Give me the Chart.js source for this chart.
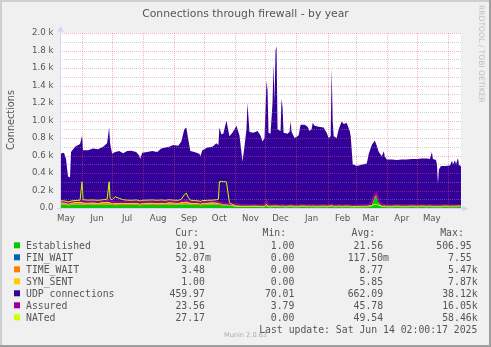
<!DOCTYPE html>
<html>
<head>
<meta charset="utf-8">
<script src="https://cdn.jsdelivr.net/npm/chart.js@4.4.0/dist/chart.umd.min.js"></script>
<style>
  html, body { margin: 0; padding: 0; background: #F0F0F0; overflow: hidden; }
  canvas { display: block; }
</style>
</head>
<body>
<canvas id="c" width="491" height="347"></canvas>
<script>
// Day offsets inside the 400-day window ending Sat Jun 14 02:00 2025
const days = [
  0,4,6,8,10,11,15,20,22,23,
  28,33,38,43,47,49,50,52,55,59,
  63,67,71,76,79,80,82,87,92,97,
  101,105,109,113,118,121,124,126,128,130,
  134,139,140,142,147,152,156,158,159,161,
  163,166,169,172,174,176,179,181,182,184,
  186,187,189,193,197,200,202,204,206,207,
  208,210,212,213,214,215,216,217,220,221,
  222,223,227,229,230,231,234,238,240,244,
  247,249,251,252,254,258,263,266,268,270,
  271,272,273,276,278,281,283,286,289,290,
  292,296,301,306,308,311,314,316,318,321,
  323,324,326,331,336,341,346,351,356,361,
  366,369,371,372,375,376,377,378,380,385,
  389,391,392,394,395,397,398,399,400
];

// Stacked areas (bottom to top)
const established = [
  38,36,35,30,32,36,38,40,38,36,
  35,36,34,38,40,38,36,34,32,34,
  35,33,34,36,32,30,34,36,35,34,
  36,35,38,37,36,38,40,42,38,36,
  34,33,30,35,36,38,37,35,34,32,
  30,28,26,22,18,15,14,13,12,12,
  12,12,11,11,12,11,10,12,35,15,
  11,10,11,12,11,12,12,11,10,11,
  11,10,10,11,12,11,10,10,11,11,
  10,11,10,11,10,10,11,10,11,12,
  14,11,10,10,11,10,10,11,10,10,
  9,9,10,10,12,20,120,130,50,15,
  12,11,10,10,11,10,10,11,10,11,
  10,11,10,10,10,10,9,10,10,11,
  10,11,10,11,10,12,11,11,10.91
];
const finWait = [
  0.15,0.15,0.15,0.15,0.15,0.15,0.15,0.15,0.15,0.15,
  0.15,0.15,0.15,0.15,0.15,0.15,0.15,0.15,0.15,0.15,
  0.15,0.15,0.15,0.15,0.15,0.15,0.15,0.15,0.15,0.15,
  0.15,0.15,0.15,0.15,0.15,0.15,0.15,0.15,0.15,0.15,
  0.15,0.15,0.15,0.15,0.15,0.15,0.15,0.15,0.15,0.15,
  0.1,0.1,0.1,0.1,0.1,0.1,0.1,0.1,0.1,0.1,
  0.1,0.1,0.1,0.1,0.1,0.1,0.1,0.1,0.1,0.1,
  0.1,0.1,0.1,0.1,0.1,0.1,0.1,0.1,0.1,0.1,
  0.1,0.1,0.1,0.1,0.1,0.1,0.1,0.1,0.1,0.1,
  0.1,0.1,0.1,0.1,0.1,0.1,0.1,0.1,0.1,0.1,
  0.1,0.1,0.1,0.1,0.1,0.1,0.1,0.1,0.1,0.1,
  0.1,0.1,0.1,0.1,0.1,0.1,0.1,0.1,0.1,0.1,
  0.1,0.1,0.1,0.1,0.1,0.1,0.1,0.1,0.1,0.1,
  0.1,0.1,0.1,0.1,0.1,0.1,0.1,0.1,0.1,0.1,
  0.1,0.1,0.1,0.1,0.1,0.1,0.1,0.1,0.05
];
const timeWait = [
  18,16,15,12,14,16,18,20,18,16,
  16,17,15,18,20,18,16,15,14,15,
  16,15,14,16,14,13,15,16,16,15,
  16,15,17,16,15,17,18,20,17,16,
  15,14,13,15,16,17,16,15,14,13,
  12,11,10,8,6,5,5,4,4,4,
  4,4,4,4,4,3.5,3.5,4,6,5,
  4,4,4,4,4,4,4,4,3.5,4,
  4,3.5,3.5,4,4,4,3.5,3.5,4,4,
  3.5,4,3.5,4,3.5,3.5,4,3.5,4,4,
  5,4,3.5,3.5,4,3.5,3.5,4,3.5,3.5,
  3,3,3.5,3.5,4,6,10,12,6,4,
  3.5,3.5,3.5,3.5,3.5,3.5,3.5,3.5,3.5,3.5,
  3.5,3.5,4,3.5,3.5,3.5,3,3.5,3.5,3.5,
  3.5,3.5,3.5,3.5,3.5,4,3.5,3.5,3.48
];
const synSent = [
  10,9,9,8,8,9,10,10,10,9,
  9,10,9,10,10,10,9,9,8,9,
  9,9,8,9,8,8,9,9,9,9,
  9,9,10,9,9,10,10,11,10,9,
  9,9,8,9,9,10,9,9,9,8,
  8,7,6,5,4,3,3,3,2.5,2.5,
  2.5,2.5,2.5,2.5,2.5,2,2,2.5,3,3,
  2.5,2.5,2.5,2.5,2.5,2.5,2.5,2.5,2,2.5,
  2,2,2,2,2,2,2,2,2,2,
  2,2,2,2,2,2,2,2,2,2,
  2,2,2,2,2,2,2,2,2,2,
  2,2,2,2,2,2,3,3,2,2,
  2,2,2,2,2,2,2,2,2,2,
  2,2,2,2,2,2,2,2,2,2,
  2,2,2,2,2,2,1.5,1.2,1
];
const udpConnections = [
  554,569,501,310,296,579,634,660,759,599,
  600,617,612,634,670,854,679,562,586,592,
  565,593,599,579,546,509,572,579,590,582,
  619,631,635,658,650,695,832,847,715,589,
  582,564,539,601,629,635,678,661,863,787,
  800,954,778,825,872,917,808,620,511,681,
  881,1181,852,842,861,813,744,781,1406,1327,
  842,833,1182,1631,1182,1781,1831,882,864,1232,
  1133,844,834,853,972,853,784,814,933,933,
  914,863,884,953,924,914,903,844,783,802,
  1579,983,804,784,883,974,944,953,864,804,
  486,466,479,494,602,692,637,565,582,569,
  632,573,539,539,533,539,539,543,544,548,
  549,543,624,544,534,484,266,424,464,463,
  469,523,484,528,484,552,474,469,459.97
];

// Lines drawn over the areas
const assured = [
  80,75,70,60,65,75,80,85,90,80,
  75,80,75,85,90,85,80,75,70,75,
  70,75,70,75,65,60,70,75,75,70,
  75,70,80,75,70,80,85,90,80,75,
  70,65,60,70,75,80,75,70,65,60,
  55,50,48,45,42,40,40,38,35,35,
  35,35,34,34,35,33,32,40,80,60,
  35,33,34,36,34,36,36,34,32,34,
  34,32,32,34,36,34,32,32,34,34,
  32,34,32,34,32,32,34,32,34,36,
  45,36,32,32,34,32,32,34,32,32,
  30,30,32,32,38,70,160,170,80,40,
  36,34,32,32,34,32,32,34,32,34,
  32,34,32,32,32,32,30,32,32,34,
  30,32,30,32,30,34,30,28,23.56
];
const nated = [
  85,80,78,70,72,80,85,90,300,95,
  90,92,88,95,100,300,105,95,130,110,
  95,90,88,92,85,80,88,90,92,88,
  92,88,95,90,88,100,150,170,120,90,
  85,80,75,85,88,90,95,100,300,305,
  300,300,60,40,30,25,22,20,20,20,
  20,20,20,22,20,20,18,22,40,30,
  22,20,22,24,22,24,24,22,20,22,
  22,20,20,22,24,22,20,20,22,22,
  20,22,20,22,20,20,22,20,22,24,
  30,24,20,20,22,20,20,22,20,20,
  18,18,20,20,24,30,40,40,30,22,
  22,22,20,20,22,20,20,22,20,22,
  20,22,20,20,20,20,18,20,20,22,
  20,22,20,22,20,24,22,20,27.17
];

// Time axis: month boundaries (grid) and label positions (mid-month)
const monthStarts = [21.9, 51.9, 82.9, 113.9, 143.9, 174.9, 204.9, 235.9, 266.9, 294.9, 325.9, 355.9, 386.9];
const monthLabelDays = [5.9, 36.9, 66.9, 97.9, 128.9, 158.9, 189.9, 219.9, 250.9, 281.9, 309.9, 340.9, 370.9];
const monthNames = ['May', 'Jun', 'Jul', 'Aug', 'Sep', 'Oct', 'Nov', 'Dec', 'Jan', 'Feb', 'Mar', 'Apr', 'May'];

// Value axis grid: minor every 100, labelled major every 200
const yMax = 2000;
const yMinorStep = 100;
const yMajorStep = 200;

// Legend table
const seriesNames = ['Established', 'FIN_WAIT', 'TIME_WAIT', 'SYN_SENT', 'UDP connections', 'Assured', 'NATed'];
const seriesColors = ['#00CC00', '#0066B3', '#FF8000', '#FFCC00', '#330099', '#990099', '#CCFF00'];
const curText = ['10.91', '52.07m', '3.48', '1.00', '459.97', '23.56', '27.17'];
const minText = ['1.00', '0.00', '0.00', '0.00', '70.01', '3.79', '0.00'];
const avgText = ['21.56', '117.50m', '8.77', '5.85', '662.09', '45.78', '49.54'];
const maxText = ['506.95', '7.55', '5.47k', '7.87k', '38.12k', '16.05k', '58.46k'];

const TEXT = '#555555';
const MAJOR_GRID = 'rgba(226,90,90,0.42)';
const MINOR_GRID = 'rgba(150,150,150,0.45)';
const AXIS = '#CFD6F8';

const toPoints = vals => days.map((d, i) => ({ x: d, y: vals[i] }));

function area(label, vals, color, fill) {
  return {
    label, data: toPoints(vals), stack: 'conn', order: 2,
    backgroundColor: color, borderColor: 'rgba(0,0,0,0)', borderWidth: 0,
    fill, pointRadius: 0, tension: 0
  };
}
function line(label, vals, color, width, order) {
  return {
    label, data: toPoints(vals), stack: label, order,
    borderColor: color, backgroundColor: color, borderWidth: width,
    fill: false, pointRadius: 0, tension: 0
  };
}

const framePlugin = {
  id: 'rrdFrame',
  beforeDraw(chart) {
    const { ctx, chartArea: a, width: W, height: H } = chart;
    ctx.save();
    ctx.fillStyle = '#F0F0F0';
    ctx.fillRect(0, 0, W, H);
    ctx.fillStyle = '#CFCFCF';
    ctx.fillRect(0, 0, W, 2);
    ctx.fillRect(0, 0, 2, H);
    ctx.fillStyle = '#9E9E9E';
    ctx.fillRect(0, H - 2, W, 2);
    ctx.fillRect(W - 2, 0, 2, H);
    ctx.fillStyle = '#FFFFFF';
    ctx.fillRect(a.left, a.top, a.right - a.left, a.bottom - a.top);
    ctx.restore();
  },
  afterDatasetsDraw(chart) {
    // dotted grid over the graph, as rrdtool does
    const { ctx, chartArea: a, scales } = chart;
    const xs = scales.x, ys = scales.y;
    ctx.save();
    ctx.lineWidth = 1;
    ctx.setLineDash([1, 1]);
    for (let v = yMinorStep; v <= yMax; v += yMinorStep) {
      const py = Math.round(ys.getPixelForValue(v)) + 0.5;
      ctx.strokeStyle = v % yMajorStep === 0 ? MAJOR_GRID : MINOR_GRID;
      ctx.beginPath();
      ctx.moveTo(a.left, py);
      ctx.lineTo(a.right, py);
      ctx.stroke();
    }
    ctx.strokeStyle = MAJOR_GRID;
    monthStarts.forEach(d => {
      const px = Math.round(xs.getPixelForValue(d)) + 0.5;
      ctx.beginPath();
      ctx.moveTo(px, a.bottom);
      ctx.lineTo(px, a.top);
      ctx.stroke();
    });
    ctx.restore();
  },
  afterDraw(chart) {
    const { ctx, chartArea: a } = chart;
    ctx.save();

    // axes with arrows
    ctx.strokeStyle = AXIS;
    ctx.fillStyle = AXIS;
    ctx.lineWidth = 1;
    ctx.beginPath();
    ctx.moveTo(a.left - 3, a.bottom + 0.5);
    ctx.lineTo(a.right + 2, a.bottom + 0.5);
    ctx.moveTo(a.left + 0.5, a.bottom + 3);
    ctx.lineTo(a.left + 0.5, a.top - 2);
    ctx.stroke();
    ctx.beginPath();
    ctx.moveTo(a.right + 1.5, a.bottom - 2.5);
    ctx.lineTo(a.right + 7, a.bottom + 0.5);
    ctx.lineTo(a.right + 1.5, a.bottom + 3.5);
    ctx.closePath();
    ctx.fill();
    ctx.beginPath();
    ctx.moveTo(a.left - 2.5, a.top - 1.5);
    ctx.lineTo(a.left + 0.5, a.top - 7);
    ctx.lineTo(a.left + 3.5, a.top - 1.5);
    ctx.closePath();
    ctx.fill();

    // title
    ctx.fillStyle = TEXT;
    ctx.font = '10.8px "DejaVu Sans"';
    ctx.textAlign = 'center';
    ctx.textBaseline = 'alphabetic';
    ctx.fillText('Connections through firewall - by year', 245.5, 17.4);

    // vertical axis title
    ctx.save();
    ctx.translate(13.8, 120);
    ctx.rotate(-Math.PI / 2);
    ctx.font = '9.7px "DejaVu Sans"';
    ctx.textAlign = 'center';
    ctx.fillText('Connections', 0, 0);
    ctx.restore();

    // side credit
    ctx.save();
    ctx.translate(478.5, 5);
    ctx.rotate(Math.PI / 2);
    ctx.font = '7.6px "DejaVu Sans"';
    ctx.fillStyle = '#BDBDBD';
    ctx.textAlign = 'left';
    ctx.fillText('RRDTOOL / TOBI OETIKER', 0, 0);
    ctx.restore();

    // watermark
    ctx.font = '6.6px "DejaVu Sans"';
    ctx.fillStyle = '#ADADAD';
    ctx.textAlign = 'center';
    ctx.fillText('Munin 2.0.63', 245.5, 336.9);

    // legend
    ctx.font = '9.8px "DejaVu Sans Mono"';
    ctx.fillStyle = TEXT;
    ctx.textAlign = 'left';
    ctx.fillText('Cur:', 175.2, 235.9);
    ctx.fillText('Min:', 262.5, 235.9);
    ctx.fillText('Avg:', 351.5, 235.9);
    ctx.fillText('Max:', 440.2, 235.9);
    const cols = [[curText, 210.8], [minText, 300.3], [avgText, 389], [maxText, 477.6]];
    const pad = s => (/[mk]$/.test(s) ? s : s + ' ');
    seriesNames.forEach((name, i) => {
      const cy = 245.3 + i * 12;
      ctx.fillStyle = seriesColors[i];
      ctx.fillRect(14, cy - 3, 6, 6);
      ctx.fillStyle = TEXT;
      ctx.textAlign = 'left';
      ctx.fillText(name, 26, cy + 3.6);
      ctx.textAlign = 'right';
      cols.forEach(([vals, xr]) => ctx.fillText(pad(vals[i]), xr, cy + 3.6));
    });
    ctx.textAlign = 'right';
    ctx.fillText('Last update: Sat Jun 14 02:00:17 2025', 477.4, 332.9);
    ctx.restore();
  }
};

Chart.defaults.font.family = '"DejaVu Sans"';

new Chart(document.getElementById('c'), {
  type: 'line',
  data: {
    datasets: [
      area('Established', established, '#00CC00', 'origin'),
      area('FIN_WAIT', finWait, '#0066B3', '-1'),
      area('TIME_WAIT', timeWait, '#FF8000', '-1'),
      area('SYN_SENT', synSent, '#FFCC00', '-1'),
      area('UDP connections', udpConnections, '#330099', '-1'),
      line('Assured', assured, '#990099', 2, 1),
      line('NATed', nated, '#CCFF00', 1, 0)
    ]
  },
  options: {
    responsive: false,
    animation: false,
    devicePixelRatio: 1,
    layout: { padding: { left: 0, right: 30, top: 33, bottom: 0 } },
    plugins: { legend: { display: false }, tooltip: { enabled: false }, title: { display: false } },
    scales: {
      x: {
        type: 'linear', min: 0, max: 400,
        afterBuildTicks(scale) {
          scale.ticks = monthLabelDays.map(v => ({ value: v }));
        },
        afterFit(scale) { scale.height = 139; },
        ticks: {
          autoSkip: false, maxRotation: 0, minRotation: 0, padding: 5.5,
          color: TEXT, font: { size: 8.6 },
          callback(v) {
            const k = monthLabelDays.indexOf(v);
            return k >= 0 ? monthNames[k] : '';
          }
        },
        grid: { display: false, drawTicks: false },
        border: { display: false }
      },
      y: {
        min: 0, max: yMax, stacked: true,
        afterFit(scale) { scale.width = 60; },
        ticks: {
          stepSize: yMajorStep, autoSkip: false, padding: 6.5, color: TEXT, font: { size: 8.6 },
          callback(v) {
            return v === 0 ? '0.0' : (v / 1000).toFixed(1) + ' k';
          }
        },
        grid: { display: false, drawTicks: false },
        border: { display: false }
      }
    }
  },
  plugins: [framePlugin]
});
</script>
</body>
</html>
